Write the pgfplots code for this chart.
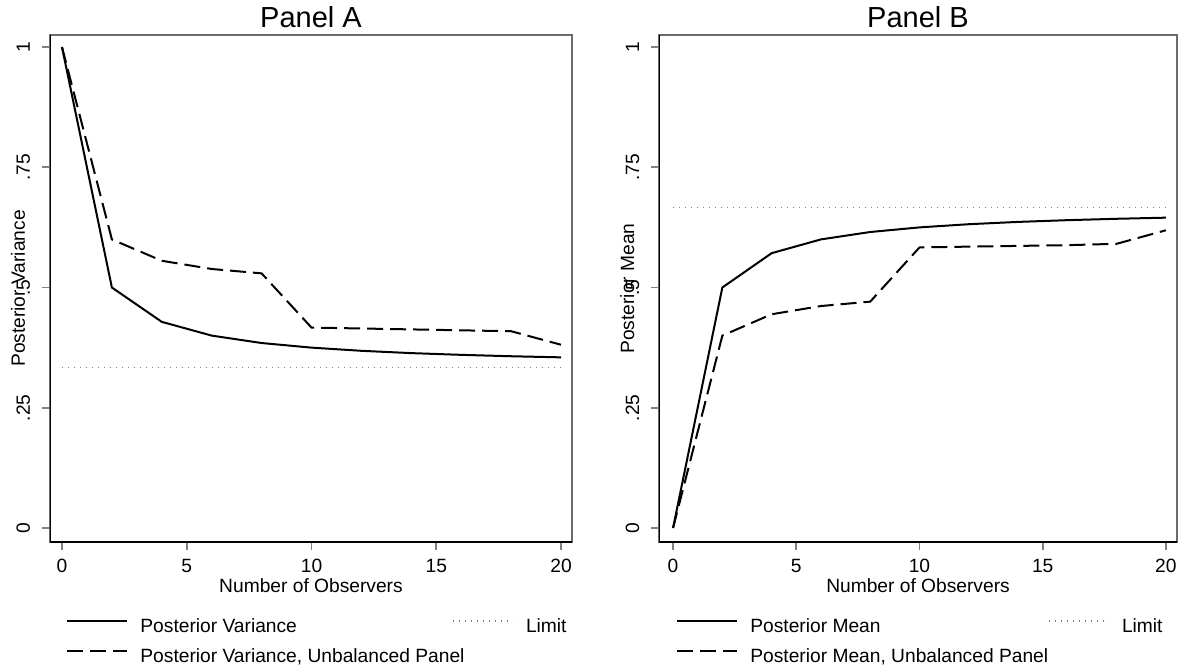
\documentclass[border=0pt]{standalone}
\usepackage{fontspec}
\setmainfont{Liberation Sans}
\usepackage{pgfplots}
\pgfplotsset{compat=1.18}

\newcommand\fs{\fontsize{9.6}{11.5}\selectfont}

\pgfplotsset{
  stata/.style={
    scale only axis,
    height=253.5pt,
    anchor=south west,
    ymin=-0.0291, ymax=1.025,
    ytick={0,0.25,0.5,0.75,1},
    yticklabels={0,.25,.5,.75,1},
    xtick={0,5,10,15,20},
    xticklabels={0,5,10,15,20},
    axis line style={draw=black!58, line width=1pt},
    tick align=outside,
    xtick pos=bottom, ytick pos=left,
    major tick length=4pt,
    tick style={draw=black!50, line width=0.8pt},
    ticklabel style={font=\fs},
    xticklabel style={anchor=base, inner sep=0pt, yshift=-11pt},
    yticklabel style={inner sep=0pt, xshift=-6pt, rotate=90, anchor=base},
    every axis y label/.style={at={(axis description cs:0,0.5)}, xshift=-12.5pt,
      rotate=90, anchor=base, inner sep=0pt, font=\fs},
    every axis x label/.style={at={(axis description cs:0.5,0)}, yshift=-25pt,
      anchor=base, inner sep=0pt, font=\fs},
    title style={at={(axis description cs:0.5,1)}, anchor=base, yshift=-2.5pt,
      inner sep=0pt, font=\fontsize{14.5}{17}\selectfont},
    legend columns=2,
    legend cell align=left,
    legend image code/.code={\draw[##1] (0pt,3.3pt) -- (30pt,3.3pt);},
    legend style={draw=none, fill=none, anchor=north west, font=\fs,
      inner sep=0pt, row sep=6pt,
      nodes={inner sep=0pt, text height=7pt, text depth=2pt},
      /tikz/every odd column/.append style={column sep=6pt},
      /tikz/every even column/.append style={column sep=0pt}},
  },
  solidln/.style={black, line width=1pt},
  dashln/.style={black, line width=1pt, dash pattern=on 8pt off 3.5pt},
  limitln/.style={black!50, line width=0.8pt, dash pattern=on 0.6pt off 2.4pt},
}

\begin{document}
\begin{tikzpicture}
\useasboundingbox (0,0) rectangle (590.5pt,334.5pt);

% Panel A
\begin{axis}[stata,
  at={(25pt,63.5pt)}, width=261pt,
  xmin=-0.48, xmax=20.44,
  title={Panel A},
  xlabel={Number of Observers},
  ylabel={Posterior Variance},
  legend style={at={(axis description cs:0.0307,-0.150)}},
]
\addplot[solidln] coordinates {
  (0,1) (2,0.5) (4,0.4286) (6,0.4) (8,0.3846) (10,0.375)
  (12,0.3684) (14,0.3636) (16,0.36) (18,0.3571) (20,0.3548)
};
\addlegendentry{\makebox[156pt][l]{Posterior Variance}}
\addplot[limitln] coordinates {(0,0.3333) (20,0.3333)};
\addlegendentry{Limit}
\addplot[dashln] coordinates {
  (0,1) (2,0.6) (4,0.5556) (6,0.5385) (8,0.5294) (10,0.4167)
  (12,0.4148) (14,0.4129) (16,0.411) (18,0.4091) (20,0.381)
};
\addlegendentry{\makebox[156pt][l]{Posterior Variance, Unbalanced Panel}}
\draw[black, line width=1pt] (rel axis cs:0,1) -- (rel axis cs:0,0) -- (rel axis cs:1,0);
\end{axis}

% Panel B
\begin{axis}[stata,
  at={(329.5pt,63.5pt)}, width=259pt,
  xmin=-0.57, xmax=20.45,
  title={Panel B},
  xlabel={Number of Observers},
  ylabel={Posterior Mean},
  legend style={at={(axis description cs:0.0328,-0.150)}},
]
\addplot[solidln] coordinates {
  (0,0) (2,0.5) (4,0.5714) (6,0.6) (8,0.6154) (10,0.625)
  (12,0.6316) (14,0.6364) (16,0.64) (18,0.6429) (20,0.6452)
};
\addlegendentry{\makebox[149pt][l]{Posterior Mean}}
\addplot[limitln] coordinates {(0,0.6667) (20,0.6667)};
\addlegendentry{Limit}
\addplot[dashln] coordinates {
  (0,0) (2,0.4) (4,0.4444) (6,0.4615) (8,0.4706) (10,0.5833)
  (12,0.585) (14,0.5865) (16,0.588) (18,0.5909) (20,0.619)
};
\addlegendentry{\makebox[149pt][l]{Posterior Mean, Unbalanced Panel}}
\draw[black, line width=1pt] (rel axis cs:0,1) -- (rel axis cs:0,0) -- (rel axis cs:1,0);
\end{axis}
\end{tikzpicture}
\end{document}
